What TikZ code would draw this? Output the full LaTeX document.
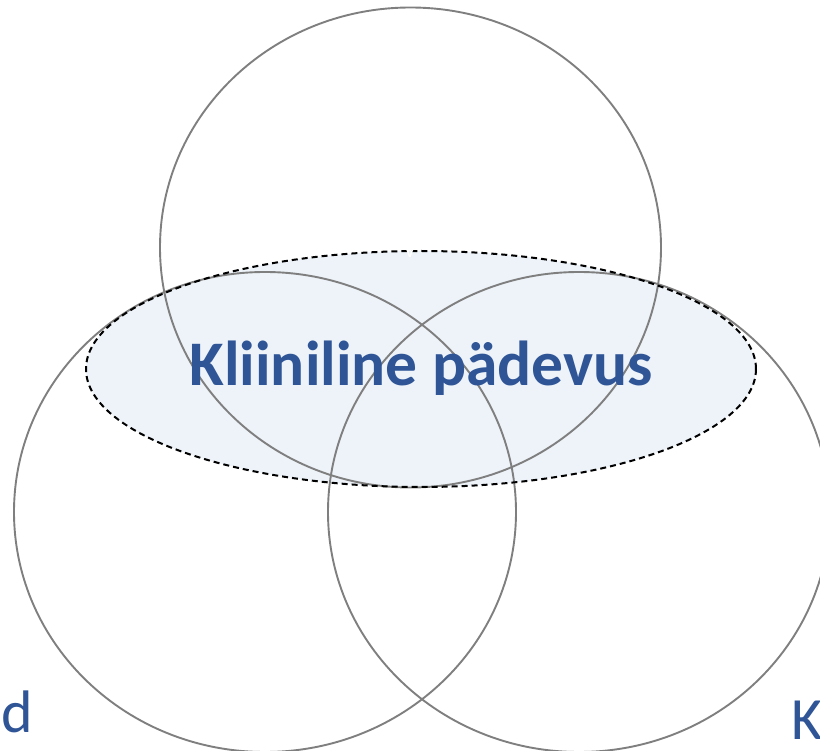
\documentclass[tikz,border=0pt]{standalone}
\usepackage{fontspec}
\setmainfont{Carlito}
\definecolor{txtblue}{HTML}{2F5597}
\definecolor{ringgray}{HTML}{7F7F7F}
\definecolor{fillblue}{HTML}{EDF3F9}
\tikzset{
  ring/.style={draw=ringgray, line width=1.9pt},
  focus/.style={draw=black, line width=2pt, dash pattern=on 6pt off 4pt},
  lbl/.style={text=txtblue, inner sep=0pt}
}
\begin{document}
\begin{tikzpicture}[x=1pt,y=-1pt]
\useasboundingbox (0,0) rectangle (820,751);
\coordinate (ec) at (421,369);
\fill[fillblue] (ec) ellipse [x radius=335, y radius=118];
\coordinate (ctop) at (410.5,247.5);
\coordinate (cleft) at (265,512);
\coordinate (cright) at (579,512);
\draw[ring] (ctop) ellipse [x radius=250.5, y radius=240];
\draw[ring] (cleft) ellipse [x radius=251, y radius=240];
\draw[ring] (cright) ellipse [x radius=251, y radius=240];
\draw[focus] (ec) ellipse [x radius=335, y radius=118];
\node[lbl, anchor=base, font=\fontsize{63.5}{68}\selectfont\bfseries] (title) at (421,386) {Kliiniline pädevus};
\node[inner sep=0pt, anchor=base, text=white, font=\fontsize{16}{18}\selectfont\bfseries] (mark) at (410,258) {v};
\node[lbl, anchor=base west, font=\fontsize{60}{64}\selectfont] (dlab) at (1,732) {d};
\node[lbl, anchor=base west, font=\fontsize{60}{64}\selectfont] (klab) at (791,739) {K};
\end{tikzpicture}
\end{document}
